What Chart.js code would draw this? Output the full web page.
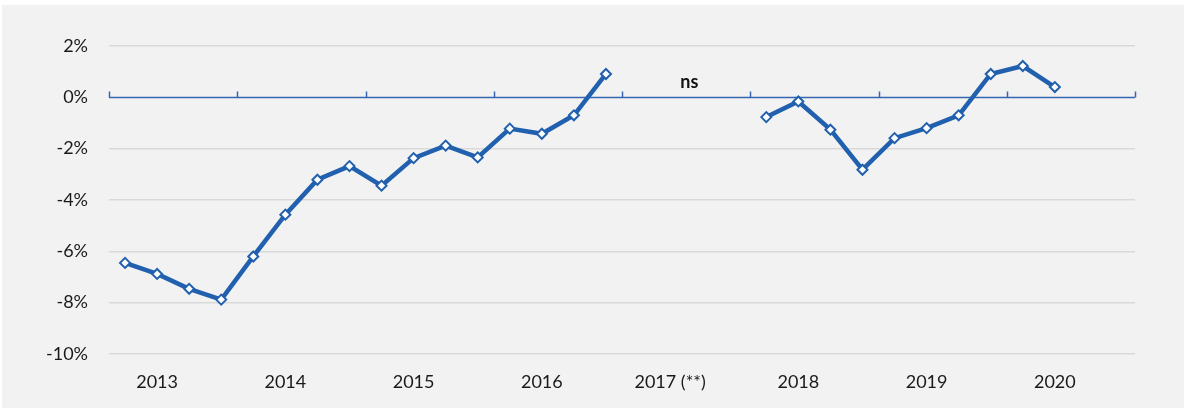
<!DOCTYPE html>
<html>
<head>
<meta charset="utf-8">
<script src="https://cdn.jsdelivr.net/npm/chart.js@4/dist/chart.umd.min.js"></script>
<style>
  html, body { margin: 0; padding: 0; background: #fff; }
  #wrap { position: absolute; left: 0; top: 0; width: 1186px; height: 410px; }
</style>
</head>
<body>
<div id="wrap"><canvas id="chart"></canvas></div>
<script>
// Años (etiquetas del eje X), 4 trimestres por año
const years = ['2013', '2014', '2015', '2016', '2017 (**)', '2018', '2019', '2020'];
const yTicks = [2, 0, -2, -4, -6, -8, -10];

// Variación trimestral (%), null = sin dato
const v2013 = [-6.45, -6.88, -7.46, -7.88];
const v2014 = [-6.2, -4.57, -3.21, -2.68];
const v2015 = [-3.44, -2.37, -1.88, -2.34];
const v2016 = [-1.22, -1.42, -0.7, 0.91];
const v2017 = [null, null, null, null];
const v2018 = [-0.77, -0.16, -1.26, -2.82];
const v2019 = [-1.59, -1.2, -0.7, 0.91];
const v2020 = [1.22, 0.4, null, null];

const values = [].concat(v2013, v2014, v2015, v2016, v2017, v2018, v2019, v2020);
const points = values.map((v, i) => ({ x: i + 0.5, y: v }));

const LINE = '#2160ae';
const FONT = 'Lato, "Open Sans", sans-serif';
Chart.defaults.font.family = FONT;
Chart.defaults.font.size = 18;
Chart.defaults.color = '#1a1a1a';

// Fondo gris, línea del 0% con marcas por año y texto "ns"
const decor = {
    id: 'decor',
    beforeDraw(chart) {
        const ctx = chart.ctx;
        ctx.save();
        ctx.fillStyle = '#f2f2f2';
        ctx.fillRect(2, 5, 1182, 403);
        ctx.restore();
    },
    beforeDatasetsDraw(chart) {
        const ctx = chart.ctx;
        const xs = chart.scales.x, ys = chart.scales.y;
        const y0 = Math.round(ys.getPixelForValue(0)) + 0.5;
        ctx.save();
        ctx.strokeStyle = '#3566ae';
        ctx.lineWidth = 1.5;
        ctx.beginPath();
        ctx.moveTo(xs.left, y0);
        ctx.lineTo(xs.right, y0);
        for (let i = 0; i <= years.length; i++) {
            const px = Math.round(xs.getPixelForValue(i * 4)) + 0.5;
            ctx.moveTo(px, y0);
            ctx.lineTo(px, y0 - 6);
        }
        ctx.stroke();
        ctx.fillStyle = '#111';
        ctx.font = 'bold 18px ' + FONT;
        ctx.textAlign = 'center';
        ctx.textBaseline = 'middle';
        // centro del año 2017 (sin dato)
        ctx.fillText('ns', xs.getPixelForValue(4 * 4 + 2.1), y0 - 15);
        ctx.restore();
    }
};

new Chart(document.getElementById('chart'), {
    type: 'line',
    data: {
        datasets: [{
            data: points,
            borderColor: LINE,
            borderWidth: 4.5,
            tension: 0,
            spanGaps: false,
            pointStyle: 'rectRot',
            pointRadius: 5,
            pointBorderWidth: 2,
            pointBackgroundColor: '#fff',
            pointBorderColor: LINE
        }]
    },
    options: {
        responsive: true,
        maintainAspectRatio: false,
        animation: false,
        layout: { padding: { top: 46, right: 51, left: 0, bottom: 0 } },
        plugins: { legend: { display: false }, tooltip: { enabled: false } },
        scales: {
            x: {
                type: 'linear',
                min: 0,
                max: years.length * 4,
                afterFit(scale) { scale.height = 56; },
                afterBuildTicks(scale) {
                    // etiqueta del año bajo el 2º trimestre
                    scale.ticks = years.map((y, i) => ({ value: i * 4 + 1.5 }));
                },
                grid: { display: false, drawTicks: false },
                border: { display: false },
                ticks: {
                    autoSkip: false,
                    maxRotation: 0,
                    padding: 17,
                    callback: (v) => years[(v - 1.5) / 4]
                }
            },
            y: {
                min: -10,
                max: 2,
                afterFit(scale) { scale.width = 109; },
                afterBuildTicks(scale) {
                    scale.ticks = yTicks.map(v => ({ value: v }));
                },
                grid: {
                    color: (c) => c.tick && c.tick.value === 0 ? 'rgba(0,0,0,0)' : '#d9d9d9',
                    lineWidth: 1.5,
                    drawTicks: false
                },
                border: { display: false },
                ticks: {
                    padding: 21,
                    callback: (v) => v + '%'
                }
            }
        }
    },
    plugins: [decor]
});
</script>
</body>
</html>
